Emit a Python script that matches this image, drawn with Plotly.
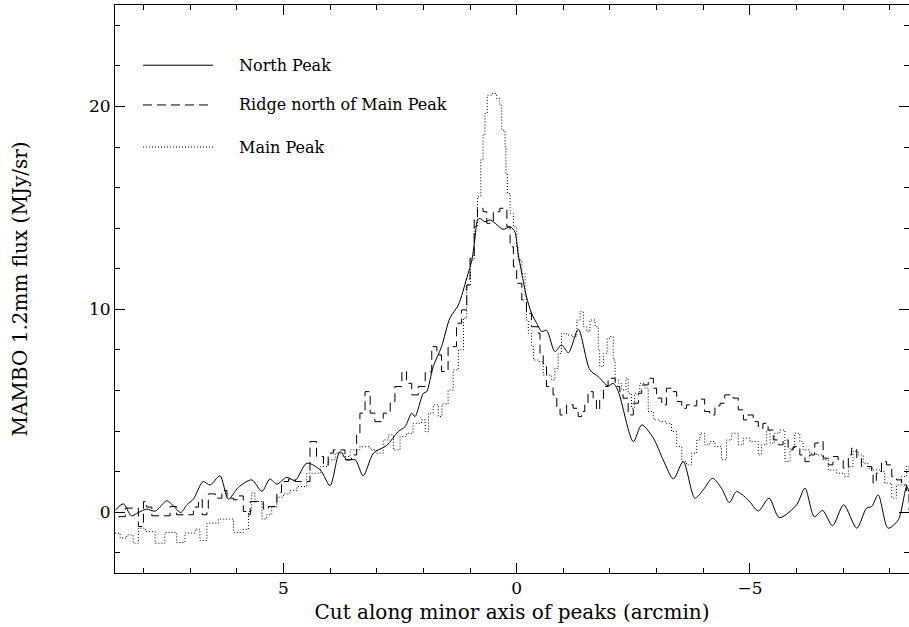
import plotly.graph_objects as go

# offsets along the cut (arcmin) and flux (MJy/sr)
north_x = [8.61, 8.43, 8.26, 8.11, 7.93, 7.75, 7.50, 7.36, 7.20, 7.07, 6.93, 6.72, 6.57, 6.36, 6.18,
           5.97, 5.68, 5.46, 5.29, 5.14, 4.93, 4.75, 4.50, 4.21, 4.00, 3.79, 3.64, 3.46, 3.29, 3.07,
           2.79, 2.54, 2.39, 2.25, 2.18, 2.00, 1.93, 1.79, 1.61, 1.43, 1.25, 1.07, 0.96, 0.89, 0.84,
           0.79, 0.68, 0.57, 0.46, 0.29, 0.14, 0.04, -0.03, -0.11, -0.21, -0.32, -0.43, -0.54, -0.64,
           -0.82, -0.96, -1.11, -1.32, -1.57, -1.75, -1.96, -2.07, -2.18, -2.50, -2.68, -2.93, -3.14,
           -3.36, -3.57, -3.82, -4.00, -4.20, -4.39, -4.56, -4.71, -4.96, -5.18, -5.41, -5.63, -6.00,
           -6.18, -6.38, -6.56, -6.77, -7.01, -7.29, -7.50, -7.61, -7.75, -7.96, -8.18, -8.36, -8.41]
north_y = [0.08, 0.41, -0.18, -0.02, 0.15, 0.05, 0.56, 0.31, -0.02, 0.36, 0.64, 1.51, 1.34, 1.79, 0.64,
           1.21, 1.59, 1.03, 1.63, 1.38, 1.72, 1.56, 2.41, 2.08, 1.31, 2.99, 2.58, 2.58, 1.79, 2.91,
           3.28, 3.97, 4.22, 4.88, 4.71, 5.86, 5.94, 7.17, 8.16, 9.57, 10.21, 11.54, 12.43, 13.58, 14.40,
           14.48, 14.32, 14.40, 14.24, 13.94, 14.07, 13.82, 12.76, 11.77, 10.62, 9.80, 9.31, 8.90, 8.97,
           7.91, 8.24, 7.86, 9.01, 7.01, 6.68, 6.22, 6.35, 5.94, 3.48, 4.30, 3.65, 2.58,
           1.64, 2.49, 0.69, 1.10, 1.67, 1.18, 0.47, 1.01, 0.61, 0.06, 0.69, -0.27, 0.36,
           1.18, -0.22, 0.08, -0.67, 0.36, -0.79, 0.20, 0.28, 0.85, -0.79, -0.38, 1.26, 1.01]

ridge_x = [8.54, 8.39, 8.11, 8.00, 7.93, 7.82, 7.43, 7.29, 6.93, 6.82, 6.74, 6.64, 6.61, 6.46, 6.32,
           6.21, 6.07, 5.97, 5.86, 5.79, 5.71, 5.43, 5.32, 5.14, 5.04, 4.89, 4.75, 4.43, 4.29, 4.14,
           4.04, 3.93, 3.68, 3.54, 3.43, 3.36, 3.25, 3.14, 3.04, 2.86, 2.71, 2.61, 2.46, 2.36, 2.25,
           2.11, 1.96, 1.82, 1.71, 1.61, 1.47, 1.29, 1.18, 1.07, 1.00, 0.91, 0.84, 0.72, 0.64, 0.50,
           0.36, 0.21, 0.14, 0.07, 0.00, -0.11, -0.21, -0.32, -0.46, -0.50, -0.57, -0.64, -0.78, -0.86,
           -0.93, -1.07, -1.21, -1.32, -1.39, -1.46, -1.53, -1.64, -1.71, -1.78, -1.86, -1.96, -2.11,
           -2.21, -2.28, -2.39, -2.50, -2.61, -2.68, -2.82, -2.93, -3.00, -3.11, -3.21, -3.32, -3.43,
           -3.54, -3.64, -3.75, -3.86, -3.93, -4.03, -4.14, -4.25, -4.36, -4.46, -4.64, -4.75, -4.86,
           -4.96, -5.07, -5.18, -5.28, -5.39, -5.50, -5.61, -5.71, -5.82, -5.93, -6.07, -6.18, -6.28,
           -6.39, -6.46, -6.57, -6.68, -6.78, -6.89, -7.00, -7.11, -7.18, -7.29, -7.39, -7.61, -7.64,
           -7.71, -7.82, -7.93, -8.04, -8.14, -8.25, -8.36, -8.41]
ridge_y = [-0.22, 0.20, -0.71, 0.52, 0.25, -0.18, 0.28, -0.13, 0.25, 0.61, -0.13, 0.15, 0.90, 0.69, 1.06,
           0.69, 0.61, 0.80, 0.03, -0.13, 0.52, 0.15, 0.28, 0.97, 1.51, 1.63, 1.51, 3.48, 2.74, 2.33,
           2.91, 3.07, 2.58, 2.82, 3.89, 4.88, 5.94, 4.88, 4.46, 4.88, 5.45, 6.19, 6.93, 6.35, 5.78,
           6.19, 6.91, 8.16, 7.75, 6.93, 8.16, 9.31, 9.97, 11.20, 12.51, 14.40, 14.98, 14.81, 14.24, 14.81,
           14.98, 14.07, 13.08, 12.10, 11.28, 10.46, 9.80, 9.14, 8.82, 7.83, 7.17, 6.19, 5.78, 5.12,
           4.79, 5.29, 5.12, 4.71, 4.96, 5.37, 5.94, 5.53, 5.04, 5.53, 6.19, 6.60, 6.19,
           5.94, 5.62, 4.79, 5.37, 5.86, 6.27, 6.60, 6.11, 5.62, 5.29, 6.11, 5.94, 5.45,
           5.12, 5.29, 5.24, 5.53, 5.57, 4.96, 4.79, 5.24, 5.37, 5.78, 5.62, 5.04, 4.55,
           4.79, 4.46, 4.14, 4.38, 4.05, 3.56, 3.32, 3.56, 3.07, 3.23, 2.82, 2.49, 2.82,
           3.40, 3.48, 2.66, 2.33, 2.74, 2.58, 2.17, 2.82, 3.15, 2.66, 2.25, 1.92, 1.43,
           1.92, 2.49, 2.33, 1.75, 1.59, 1.34, 0.94, 0.11]

main_x = [8.61, 8.50, 8.36, 8.22, 8.11, 7.96, 7.75, 7.54, 7.29, 7.11, 6.89, 6.79, 6.64, 6.39, 6.07,
          5.86, 5.75, 5.68, 5.61, 5.46, 5.36, 5.25, 5.14, 5.00, 4.86, 4.71, 4.50, 4.21, 4.04, 3.89,
          3.72, 3.57, 3.36, 3.14, 3.00, 2.86, 2.75, 2.64, 2.50, 2.36, 2.22, 2.04, 1.96, 1.89, 1.79,
          1.68, 1.60, 1.47, 1.36, 1.25, 1.14, 1.07, 0.99, 0.91, 0.84, 0.77, 0.72, 0.68, 0.63, 0.54,
          0.43, 0.36, 0.32, 0.25, 0.23, 0.20, 0.14, 0.07, 0.00, -0.03, -0.11, -0.18, -0.21, -0.25,
          -0.32, -0.36, -0.46, -0.57, -0.75, -0.82, -0.89, -0.96, -1.07, -1.18, -1.29, -1.36, -1.43,
          -1.50, -1.57, -1.68, -1.75, -1.78, -1.86, -1.94, -2.01, -2.07, -2.11, -2.18, -2.25, -2.34,
          -2.39, -2.46, -2.53, -2.64, -2.75, -2.82, -2.93, -3.07, -3.21, -3.32, -3.43, -3.54, -3.64,
          -3.75, -3.86, -3.93, -4.03, -4.14, -4.25, -4.39, -4.50, -4.61, -4.75, -4.86, -5.00, -5.18,
          -5.25, -5.36, -5.43, -5.53, -5.64, -5.75, -5.86, -5.96, -6.07, -6.14, -6.28, -6.43, -6.57,
          -6.68, -6.86, -7.03, -7.11, -7.21, -7.32, -7.43, -7.53, -7.64, -7.78, -7.89, -8.04, -8.14,
          -8.25, -8.36, -8.41]
main_y = [-1.03, -1.28, -1.12, -1.53, -0.79, -0.96, -1.53, -1.00, -1.50, -1.03, -0.84, -1.40, -0.54, -0.34, -1.00,
          -0.84, 0.03, 0.94, 0.52, -0.34, -0.13, 0.25, 0.74, 0.90, 1.06, 1.26, 1.92, 2.25, 2.58, 2.91,
          2.74, 3.07, 3.23, 3.07, 2.91, 3.56, 3.81, 3.07, 3.72, 3.89, 4.38, 4.55, 3.97, 4.88, 5.29,
          4.71, 5.33, 6.02, 7.01, 8.00, 9.57, 11.20, 12.43, 14.07, 15.55, 17.36, 18.59, 19.66, 20.56, 20.64,
          20.39, 20.06, 18.83, 18.01, 16.70, 15.71, 14.73, 14.07, 13.08, 12.43, 11.77, 10.62, 9.47, 8.82,
          8.16, 7.50, 7.42, 6.76, 6.52, 7.09, 7.83, 8.82, 8.73, 8.65, 9.47, 9.88, 9.14,
          8.90, 9.47, 9.14, 8.00, 7.17, 7.83, 8.57, 8.65, 7.50, 6.52, 6.35, 6.02, 6.60,
          5.86, 5.12, 5.86, 6.35, 6.11, 4.96, 4.55, 4.46, 4.38, 3.97, 3.23, 2.49, 2.33,
          2.91, 3.56, 3.89, 3.32, 3.48, 3.23, 2.58, 3.56, 3.89, 3.32, 3.65, 3.48, 2.82,
          3.32, 4.05, 3.40, 3.89, 4.05, 2.49, 3.15, 3.89, 3.48, 3.07, 2.91, 2.82, 2.58,
          2.08, 1.92, 1.75, 2.25, 2.99, 2.82, 2.41, 2.17, 2.08, 2.00, 1.43, 0.69, 1.34,
          1.75, 2.25, 2.08]

legend_names = ["North Peak", "Ridge north of Main Peak", "Main Peak"]
legend_dash = ["solid", "9px,5px", "1px,2px"]

FONT = "DejaVu Serif"

fig = go.Figure()
fig.add_trace(go.Scatter(x=north_x, y=north_y, mode="lines", name=legend_names[0],
                         line=dict(color="black", width=1, shape="spline", smoothing=0.8)))
fig.add_trace(go.Scatter(x=ridge_x, y=ridge_y, mode="lines", name=legend_names[1],
                         line=dict(color="black", width=1, shape="hv", dash=legend_dash[1])))
fig.add_trace(go.Scatter(x=main_x, y=main_y, mode="lines", name=legend_names[2],
                         line=dict(color="black", width=1, shape="hv", dash=legend_dash[2])))

# hand-made legend, PGPLOT style: long line sample then label
legend_rows = [0.894, 0.824, 0.750]
for name, dash, yy in zip(legend_names, legend_dash, legend_rows):
    fig.add_shape(type="line", xref="paper", yref="paper", x0=0.0353, x1=0.1234, y0=yy, y1=yy,
                  line=dict(color="black", width=1, dash=dash))
    fig.add_annotation(xref="paper", yref="paper", x=0.1537, y=yy, text=name, showarrow=False,
                       xanchor="left", yanchor="middle", font=dict(family=FONT, size=16, color="black"))

axis_common = dict(showline=True, linecolor="black", linewidth=1, mirror="ticks", ticks="inside",
                   tickcolor="black", ticklen=10, tickwidth=1, showgrid=False, zeroline=False,
                   tickfont=dict(family=FONT, size=17, color="black"))

fig.update_xaxes(range=[8.61, -8.41], tickvals=[5, 0, -5], ticktext=["5", "0", "\u22125"],
                 minor=dict(dtick=1, tick0=0, ticks="inside", ticklen=5, tickcolor="black", showgrid=False),
                 title=dict(text="Cut along minor axis of peaks (arcmin)", standoff=7,
                            font=dict(family=FONT, size=20, color="black")),
                 **axis_common)
fig.update_yaxes(range=[-3, 25], tickvals=[0, 10, 20],
                 minor=dict(dtick=2, tick0=0, ticks="inside", ticklen=5, tickcolor="black", showgrid=False),
                 title=dict(text="MAMBO 1.2mm flux (MJy/sr)", standoff=55,
                            font=dict(family=FONT, size=20, color="black")),
                 **axis_common)

fig.update_layout(width=909, height=627, margin=dict(l=115, r=0, t=5, b=54, autoexpand=False),
                  plot_bgcolor="white", paper_bgcolor="white", showlegend=False)

# drop the browser's default page margin so the figure sits at the window's corner
fig.write_html("out.html", config={"displayModeBar": False},
               post_script="document.body.style.margin='0';document.body.style.overflow='hidden';")
